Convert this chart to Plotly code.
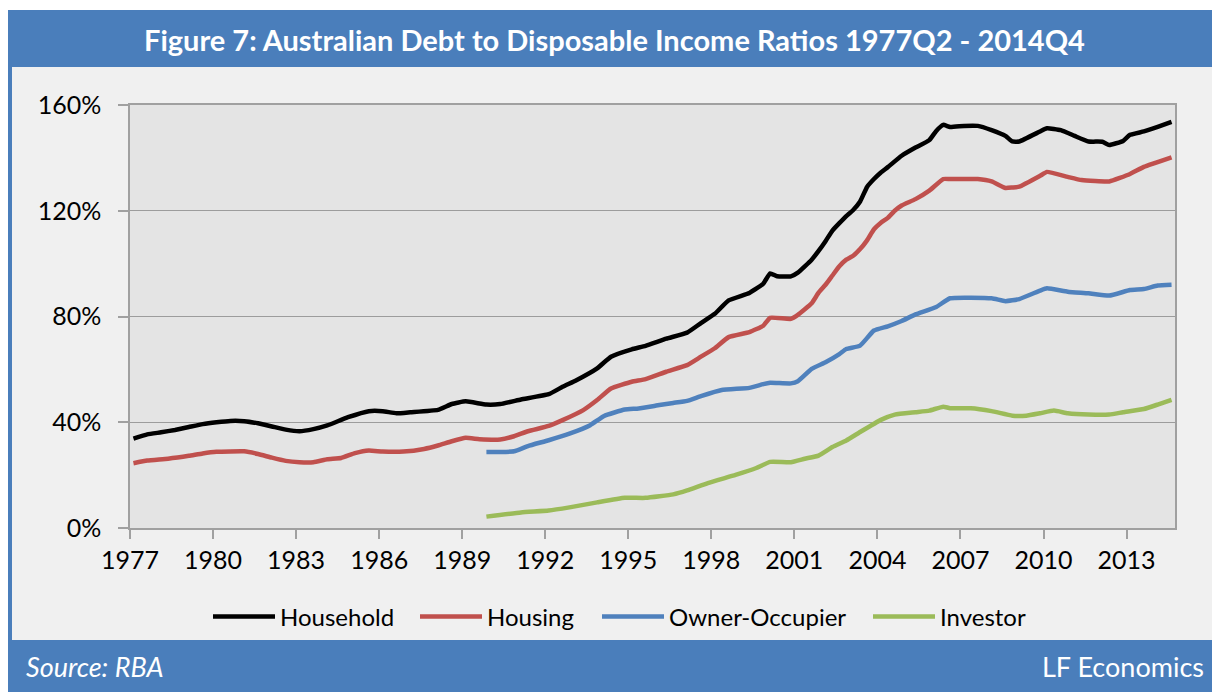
import plotly.graph_objects as go

# ---------------- data ----------------
household_q = ["1977Q2","1977Q4","1978Q2","1978Q4","1979Q2","1979Q4","1980Q2","1980Q4","1981Q2","1981Q4",
               "1982Q2","1982Q4","1983Q2","1983Q4","1984Q2","1985Q1","1985Q4","1986Q2","1986Q4","1987Q2",
               "1988Q2","1988Q4","1989Q2","1990Q1","1990Q3","1991Q2","1992Q2","1992Q4","1993Q2","1994Q1",
               "1994Q3","1995Q2","1995Q4","1996Q3","1997Q2","1997Q4","1998Q2","1998Q4","1999Q3","2000Q1",
               "2000Q2","2000Q3","2001Q1","2001Q2","2001Q4","2002Q1","2002Q2","2002Q3","2002Q4","2003Q1",
               "2003Q2","2003Q3","2003Q4","2004Q1","2004Q2","2004Q3","2005Q1","2005Q3","2006Q1","2006Q2",
               "2006Q3","2006Q4","2007Q2","2007Q4","2008Q2","2008Q4","2009Q1","2009Q2","2010Q1","2010Q2",
               "2010Q4","2011Q2","2011Q4","2012Q2","2012Q3","2013Q1","2013Q2","2013Q4","2014Q2","2014Q4"]
household = [33.8,35.4,36.2,37.1,38.2,39.3,40.0,40.5,40.4,39.6,
             38.4,37.2,36.6,37.4,38.8,41.9,44.2,44.2,43.4,43.8,
             44.7,46.9,47.9,46.7,46.9,48.6,50.6,53.4,55.9,60.4,
             64.8,67.6,68.9,71.6,73.9,77.5,81.0,86.1,88.9,92.4,
             96.3,95.2,95.2,96.6,101.5,104.8,108.5,112.5,115.3,118.0,
             120.3,123.5,129.0,132.0,134.5,136.5,140.8,143.9,146.7,150.2,
             152.5,151.7,152.1,152.1,150.5,148.3,146.2,146.2,150.0,151.2,
             150.5,148.3,146.2,146.1,144.9,146.4,148.7,150.0,151.7,153.6]

housing_q = ["1977Q2","1977Q4","1978Q3","1979Q2","1979Q4","1980Q2","1981Q2","1981Q4","1982Q2","1982Q4",
             "1983Q2","1983Q4","1984Q2","1984Q4","1985Q2","1985Q4","1986Q2","1987Q1","1987Q4","1988Q2",
             "1988Q4","1989Q2","1989Q4","1990Q3","1991Q1","1991Q3","1992Q2","1992Q4","1993Q3","1994Q1",
             "1994Q3","1995Q2","1995Q4","1996Q3","1997Q2","1997Q4","1998Q2","1998Q4","1999Q3","2000Q1",
             "2000Q2","2001Q1","2001Q2","2001Q4","2002Q1","2002Q2","2002Q3","2002Q4","2003Q1","2003Q2",
             "2003Q3","2003Q4","2004Q1","2004Q2","2004Q3","2004Q4","2005Q1","2005Q3","2006Q1","2006Q3",
             "2006Q4","2007Q4","2008Q2","2008Q4","2009Q1","2009Q2","2010Q1","2010Q2","2011Q1","2011Q3",
             "2012Q3","2013Q2","2013Q4","2014Q4"]
housing = [24.5,25.5,26.2,27.3,28.2,28.8,29.0,28.0,26.6,25.4,
           24.9,24.9,26.0,26.5,28.3,29.3,28.9,28.9,29.9,31.2,
           32.8,34.1,33.6,33.5,34.7,36.6,38.6,40.8,44.6,48.4,
           52.8,55.3,56.3,59.1,61.6,64.8,68.0,72.2,74.1,76.5,
           79.5,79.1,80.6,85.0,89.0,92.0,95.5,99.0,101.5,103.0,
           105.5,108.8,113.0,115.5,117.3,120.0,122.0,124.4,127.6,132.0,
           132.0,132.0,131.1,128.6,128.8,129.1,133.2,134.7,132.8,131.6,
           131.1,133.9,136.6,140.2]

owner_q = ["1990Q1","1991Q1","1991Q3","1992Q2","1993Q1","1993Q4","1994Q2","1995Q1","1995Q3","1996Q2",
           "1996Q4","1997Q2","1997Q4","1998Q3","1999Q3","2000Q1","2000Q2","2001Q1","2001Q2","2001Q4",
           "2002Q2","2002Q4","2003Q1","2003Q3","2004Q1","2004Q3","2005Q1","2005Q3","2006Q2","2006Q4",
           "2008Q2","2008Q4","2009Q2","2010Q1","2010Q2","2011Q1","2011Q4","2012Q3","2013Q2","2013Q4",
           "2014Q2","2014Q4"]
owner = [28.7,29.0,31.0,33.2,35.7,38.9,42.4,44.8,45.2,46.5,
         47.3,48.1,49.9,52.2,53.0,54.4,54.9,54.7,55.5,60.2,
         62.7,65.8,67.7,69.0,74.7,76.3,78.3,80.8,83.6,86.9,
         86.9,85.8,86.6,89.8,90.7,89.4,88.8,87.9,90.0,90.4,
         91.7,92.0]

investor_q = ["1990Q1","1991Q2","1992Q2","1993Q1","1994Q1","1995Q1","1995Q4","1996Q4","1997Q2","1998Q1",
              "1999Q1","1999Q4","2000Q2","2001Q1","2001Q3","2002Q1","2002Q3","2003Q1","2003Q3","2004Q2",
              "2004Q4","2005Q3","2006Q1","2006Q3","2006Q4","2007Q3","2008Q2","2009Q1","2009Q3","2010Q1",
              "2010Q3","2011Q1","2011Q4","2012Q3","2013Q1","2013Q4","2014Q2","2014Q4"]
investor = [4.3,5.9,6.6,7.8,9.7,11.4,11.4,12.7,14.2,17.0,
            20.1,22.7,25.0,24.9,26.2,27.4,30.6,33.1,36.3,40.9,
            42.9,43.8,44.4,45.9,45.3,45.3,44.2,42.5,42.5,43.4,
            44.4,43.4,42.9,42.9,43.8,45.0,46.7,48.5]

tick_years = [1977, 1980, 1983, 1986, 1989, 1992, 1995, 1998, 2001, 2004, 2007, 2010, 2013]
y_ticks = [0, 40, 80, 120, 160]

# ---------------- helpers ----------------
def qpos(label):
    """Category position: 1977Q2 occupies [1977, 1977.25] on the axis."""
    yr = int(label[:4]); q = int(label[-1])
    idx = (yr - 1977) * 4 + (q - 2)
    return 1977 + (idx + 0.5) / 4

W, H = 1220, 692
OFF = 8                                  # page body margin shifts the figure by 8px
L, R, T, B = 130 - OFF, 1175 - OFF, 105 - OFF, 528 - OFF   # plot area (figure px)
def xp(px): return (px - OFF - L) / (R - L)     # page px -> paper
def yp(py): return (B - (py - OFF)) / (B - T)

BLUE_FRAME = "#4a7ebb"
FONT = "Lato, Carlito, Calibri, sans-serif"

series = [
    ("Household", household_q, household, "#000000", 4.5, 130),
    ("Housing", housing_q, housing, "#c0504d", 4.5, 105),
    ("Owner-Occupier", owner_q, owner, "#4f81bd", 4.5, 194),
    ("Investor", investor_q, investor, "#9bbb59", 4.5, 95),
]

fig = go.Figure()
for name, qs, vals, col, w, lw in series:
    fig.add_trace(go.Scatter(
        x=[qpos(q) for q in qs], y=vals, mode="lines", name=name,
        line=dict(color=col, width=w, shape="spline", smoothing=0.4),
        legendwidth=lw,
        hovertemplate="%{y:.1f}%<extra>" + name + "</extra>",
    ))

shapes = [
    dict(type="rect", xref="paper", yref="paper", x0=xp(7), x1=xp(1230), y0=yp(710), y1=yp(10),
         fillcolor=BLUE_FRAME, line=dict(width=0), layer="below"),
    dict(type="rect", xref="paper", yref="paper", x0=xp(12), x1=xp(1214), y0=yp(640), y1=yp(67),
         fillcolor="#f0f0f0", line=dict(width=0), layer="below"),
    dict(type="rect", xref="paper", yref="paper", x0=0, x1=1, y0=0, y1=1,
         fillcolor="#e4e4e4", line=dict(width=0), layer="below"),
]

annotations = [
    dict(text="<b>Figure 7: Australian Debt to Disposable Income Ratios 1977Q2 - 2014Q4</b>",
         xref="paper", yref="paper", x=xp(614), y=yp(39), xanchor="center", yanchor="middle",
         showarrow=False, font=dict(family=FONT, size=29, color="white")),
    dict(text="<i>Source: RBA</i>", xref="paper", yref="paper", x=xp(24), y=yp(666),
         xanchor="left", yanchor="middle", showarrow=False,
         font=dict(family=FONT, size=27, color="white")),
    dict(text="LF Economics", xref="paper", yref="paper", x=xp(1206), y=yp(666),
         xanchor="right", yanchor="middle", showarrow=False,
         font=dict(family=FONT, size=27, color="white")),
]

fig.update_layout(
    width=W, height=H,
    margin=dict(l=L, r=W - R, t=T, b=H - B, pad=0),
    paper_bgcolor="white", plot_bgcolor="rgba(0,0,0,0)",
    font=dict(family=FONT, size=24, color="#000000"),
    shapes=shapes, annotations=annotations,
    showlegend=True,
    legend=dict(orientation="h", x=xp(208), xanchor="left", y=yp(617), yanchor="middle",
                font=dict(family=FONT, size=24, color="#000000"),
                bgcolor="rgba(0,0,0,0)", itemwidth=62, tracegroupgap=0),
    xaxis=dict(range=[1977, 2014.75], tickmode="array", tickvals=tick_years,
               ticktext=[str(y) for y in tick_years], showgrid=False, zeroline=False,
               showline=True, linecolor="#a0a0a0", linewidth=1.5, mirror=True,
               ticks="outside", ticklen=9, tickcolor="#a0a0a0", tickwidth=1.5,
               tickfont=dict(family=FONT, size=25, color="#000000")),
    yaxis=dict(range=[0, 160], tickmode="array", tickvals=y_ticks,
               ticktext=[f"{v}%" for v in y_ticks], showgrid=True, gridcolor="#9c9c9c",
               gridwidth=1.2, zeroline=False, showline=True, linecolor="#a0a0a0",
               linewidth=1.5, mirror=True, ticks="outside", ticklen=10, tickcolor="#a0a0a0",
               tickwidth=1.5, ticklabelstandoff=12,
               tickfont=dict(family=FONT, size=25, color="#000000")),
)

fig.write_html("out.html")
